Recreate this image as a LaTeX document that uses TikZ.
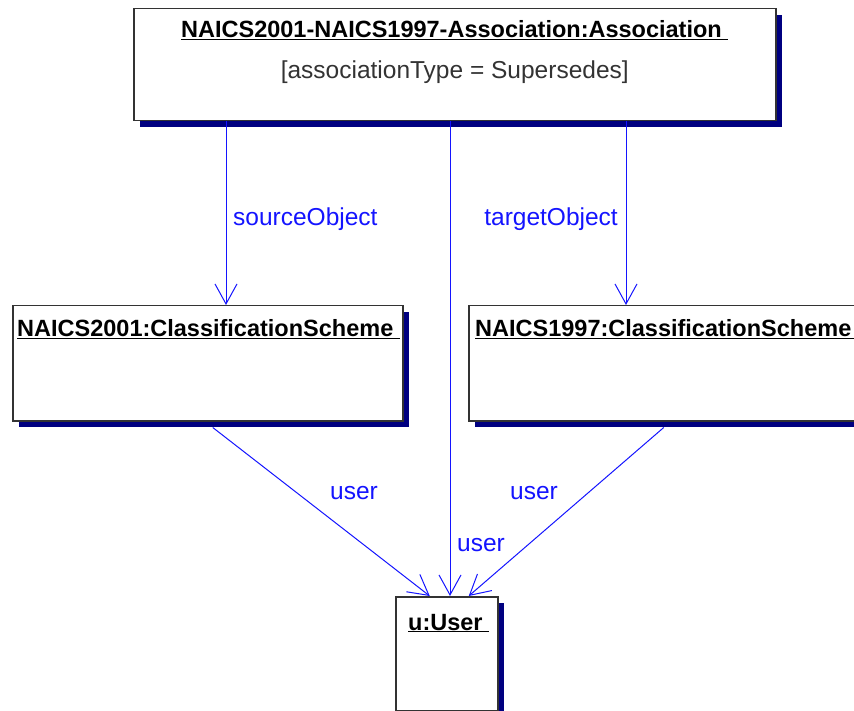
\documentclass[tikz,border=0pt]{standalone}
\usepackage{fontspec}
\setmainfont{Liberation Sans}
\usetikzlibrary{arrows.meta,shadows}
\definecolor{umlblue}{RGB}{20,20,255}
\definecolor{umlshadow}{RGB}{0,0,128}
\begin{document}
\begin{tikzpicture}[x=1pt,y=-1pt,
obj/.style={draw=black!80,line width=1.5pt,fill=white,anchor=north west,inner sep=0pt,
drop shadow={shadow xshift=6pt,shadow yshift=-6pt,fill=umlshadow,opacity=1}},
oname/.style={font=\bfseries\fontsize{23.5}{28}\selectfont,inner sep=0pt},
attr/.style={font=\fontsize{24.5}{28}\selectfont,text=black!80,inner sep=0pt},
lnk/.style={umlblue,line width=1pt,-{Straight Barb[length=20pt,width=22pt]}},
role/.style={font=\fontsize{24.5}{28}\selectfont,text=umlblue,inner sep=0pt}]
\useasboundingbox(0,0)rectangle(854,711);
\clip(0,0)rectangle(854,711);
\node[obj,minimum width=642pt,minimum height=112pt](assoc)at(133,8){};
\node[obj,minimum width=390pt,minimum height=115pt](naics01)at(12,305){};
\node[obj,minimum width=390pt,minimum height=115pt](naics97)at(468,305){};
\node[obj,minimum width=102pt,minimum height=114pt](user)at(395,596){};
\node[oname,anchor=base](assocname)at([yshift=-30pt]assoc.north){\underline{NAICS2001-NAICS1997-Association:Association\ }};
\node[attr,anchor=base](assoctype)at([yshift=-71pt]assoc.north){[associationType = Supersedes]};
\node[oname,anchor=base west](naics01name)at([xshift=5pt,yshift=-32pt]naics01.north west){\underline{NAICS2001:ClassificationScheme\ }};
\node[oname,anchor=base west](naics97name)at([xshift=7pt,yshift=-32pt]naics97.north west){\underline{NAICS1997:ClassificationScheme\ }};
\node[oname,anchor=base west](username)at([xshift=13pt,yshift=-34pt]user.north west){\underline{u:User\ }};
\coordinate(srcx)at(226,0);
\coordinate(midx)at(450,0);
\coordinate(tgtx)at(626,0);
\draw[lnk](assoc.south-|srcx)--(naics01.north-|srcx);
\draw[lnk](assoc.south-|midx)--(user.north-|midx);
\draw[lnk](assoc.south-|tgtx)--(naics97.north-|tgtx);
\draw[lnk]([shift={(5,6)}]naics01.south)--([xshift=-17pt]user.north);
\draw[lnk]([shift={(0,6)}]naics97.south)--([xshift=22pt]user.north);
\node[role,anchor=west](srclbl)at(233,219){sourceObject};
\node[role,anchor=east](tgtlbl)at(618,219){targetObject};
\node[role,anchor=west](userlbl1)at(330,493){user};
\node[role,anchor=west](userlbl2)at(510,493){user};
\node[role,anchor=west](userlbl3)at(457,545){user};
\end{tikzpicture}
\end{document}
